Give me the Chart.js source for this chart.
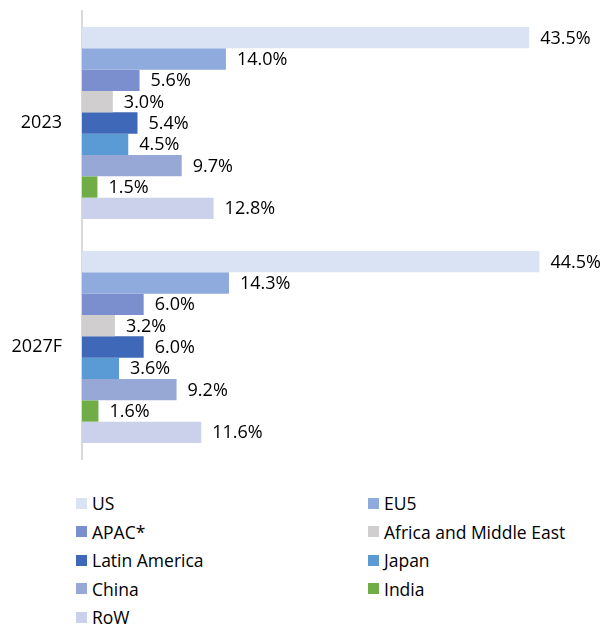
<!DOCTYPE html>
<html>
<head>
<meta charset="utf-8">
<script src="https://cdn.jsdelivr.net/npm/chart.js@4"></script>
<style>
  body { margin: 0; background: #fff; font-family: "Open Sans", sans-serif; }
  #wrap { position: relative; width: 611px; height: 624px; }
  #legend {
    position: absolute; left: 76px; top: 489px;
    display: grid; grid-template-columns: 292px 240px; row-gap: 0;
    font-size: 17.5px; color: #000;
  }
  .item { display: flex; align-items: center; height: 28.5px; white-space: nowrap; }
  .box { width: 11px; height: 11px; margin-right: 5px; flex: none; }
</style>
</head>
<body>
<div id="wrap">
  <canvas id="chart" width="611" height="470"></canvas>
  <div id="legend"></div>
</div>
<script>
const categories = ["2023", "2027F"];
const seriesNames = ["US", "EU5", "APAC*", "Africa and Middle East", "Latin America", "Japan", "China", "India", "RoW"];
const seriesColors = ["#dae3f3", "#8faadc", "#7b8fce", "#d0cece", "#3f68b8", "#5b9bd5", "#98a8d6", "#70ad47", "#cbd1ea"];

// values per series: [2023, 2027F]
const us = [43.5, 44.5];
const eu5 = [14.0, 14.3];
const apac = [5.6, 6.0];
const africaMiddleEast = [3.0, 3.2];
const latinAmerica = [5.4, 6.0];
const japan = [4.5, 3.6];
const china = [9.7, 9.2];
const india = [1.5, 1.6];
const row = [12.8, 11.6];
const seriesValues = [us, eu5, apac, africaMiddleEast, latinAmerica, japan, china, india, row];

// value labels at the end of each bar
const barLabels = {
  id: "barLabels",
  afterDatasetsDraw(chart) {
    const ctx = chart.ctx;
    ctx.save();
    ctx.font = '18px "Open Sans"';
    ctx.fillStyle = "#000";
    ctx.textBaseline = "middle";
    ctx.textAlign = "left";
    chart.data.datasets.forEach(function (ds, i) {
      chart.getDatasetMeta(i).data.forEach(function (bar, j) {
        ctx.fillText(ds.data[j].toFixed(1) + "%", bar.x + 11, bar.y + 1);
      });
    });
    ctx.restore();
  },
};

const datasets = seriesNames.map(function (name, i) {
  return {
    label: name,
    data: seriesValues[i],
    backgroundColor: seriesColors[i],
    categoryPercentage: 0.857,
    barPercentage: 1,
  };
});

const chart = new Chart(document.getElementById("chart").getContext("2d"), {
  type: "bar",
  data: { labels: categories, datasets: datasets },
  options: {
    indexAxis: "y",
    responsive: false,
    animation: false,
    layout: { padding: { top: 11, bottom: 11, left: 0, right: 15 } },
    plugins: { legend: { display: false }, tooltip: { enabled: false } },
    scales: {
      x: { min: 0, max: 50, display: false },
      y: {
        grid: { display: false, drawTicks: true, tickLength: 20 },
        border: { display: true, color: "#d9d9d9", width: 2 },
        ticks: { color: "#000", font: { family: "Open Sans", size: 18 }, padding: 0 },
        afterFit: function (scale) { scale.width = 82; },
      },
    },
  },
  plugins: [barLabels],
});

// legend in two columns
const legend = document.getElementById("legend");
chart.data.datasets.forEach(function (ds) {
  legend.innerHTML += `<div class="item"><span class="box" style="background:${ds.backgroundColor}"></span><span>${ds.label}</span></div>`;
});
</script>
</body>
</html>
